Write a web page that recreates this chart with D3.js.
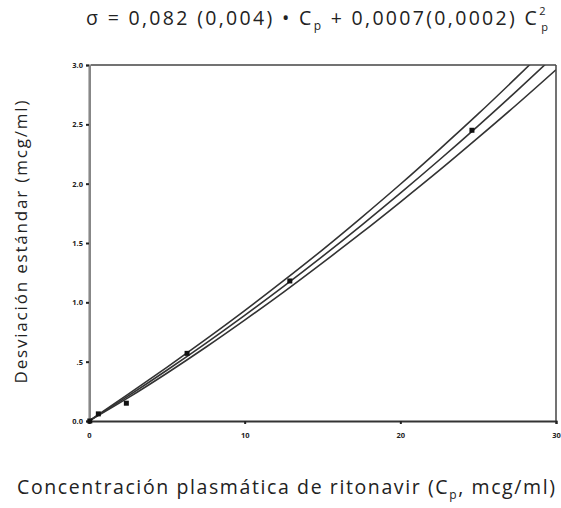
<!DOCTYPE html>
<html>
<head>
<meta charset="utf-8">
<script src="https://cdn.jsdelivr.net/npm/d3@7"></script>
<style>
  html, body { margin: 0; padding: 0; background: #fff; }
  svg { display: block; }
  text { font-family: "Open Sans", "Noto Sans", sans-serif; fill: #222; }
</style>
</head>
<body>
<svg id="chart" width="561" height="508"></svg>
<script>
// Fitted model: sigma = a * Cp + b * Cp^2 (coefficients from the equation)
const coefLinear = 0.082;
const coefQuad = 0.0007;

// Concentrations at which the fitted curve and its band are traced
const concGrid = [0, 2.5, 5, 7.5, 10, 12.5, 15, 17.5, 20, 22.5, 25, 27.5, 30];
// Half-width of the confidence band at each concentration of concGrid
const bandHalfWidth = [0, 0.015, 0.025, 0.033, 0.04, 0.048, 0.055, 0.065, 0.075, 0.088, 0.1, 0.115, 0.13];

// Observed standard deviations (Cp, sigma)
const obsConc = [0.05, 0.6, 2.4, 6.3, 12.9, 24.6];
const obsSD = [0.0, 0.06, 0.15, 0.57, 1.18, 2.45];

// Axis ticks
const yTicks = [0, 0.5, 1.0, 1.5, 2.0, 2.5, 3.0];
const yTickLabels = ["0.0", ".5", "1.0", "1.5", "2.0", "2.5", "3.0"];
const xTicks = [0, 10, 20, 30];
const xTickLabels = ["0", "10", "20", "30"];

const svg = d3.select("#chart");
const margin = { left: 89, top: 65, right: 5, bottom: 87 };
const W = 561, H = 508;
const innerW = W - margin.left - margin.right;
const innerH = H - margin.top - margin.bottom;

const x = d3.scaleLinear().domain([0, 30]).range([margin.left, margin.left + innerW]);
const y = d3.scaleLinear().domain([0, 3]).range([margin.top + innerH, margin.top]);

const fit = c => coefLinear * c + coefQuad * c * c;

// clip region for curves
svg.append("defs").append("clipPath").attr("id", "plotClip")
  .append("rect")
  .attr("x", margin.left).attr("y", margin.top)
  .attr("width", innerW).attr("height", innerH);

const line = d3.line().x(d => x(d[0])).y(d => y(d[1])).curve(d3.curveMonotoneX);

const centerData = concGrid.map(c => [c, fit(c)]);
const upperData = concGrid.map((c, i) => [c, fit(c) + bandHalfWidth[i]]);
const lowerData = concGrid.map((c, i) => [c, fit(c) - bandHalfWidth[i]]);

const curves = svg.append("g").attr("clip-path", "url(#plotClip)");
[upperData, centerData, lowerData].forEach(d => {
  curves.append("path")
    .datum(d)
    .attr("d", line)
    .attr("fill", "none")
    .attr("stroke", "#333")
    .attr("stroke-width", 1.6);
});

// Frame: top and right borders
svg.append("line")
  .attr("x1", x(0)).attr("x2", x(30)).attr("y1", y(3)).attr("y2", y(3))
  .attr("stroke", "#444").attr("stroke-width", 1.5);
svg.append("line")
  .attr("x1", x(30)).attr("x2", x(30)).attr("y1", y(3)).attr("y2", y(0))
  .attr("stroke", "#444").attr("stroke-width", 1.5);

// Y axis
const yAxis = d3.axisLeft(y)
  .tickValues(yTicks)
  .tickFormat((d, i) => yTickLabels[i])
  .tickSize(3)
  .tickPadding(3);
const gy = svg.append("g").attr("transform", `translate(${margin.left},0)`).call(yAxis);
gy.select(".domain").attr("stroke", "#bbb").attr("stroke-width", 3);
gy.selectAll(".tick line").attr("stroke", "#222").attr("stroke-width", 2);
gy.selectAll(".tick text").attr("font-size", 7.5).attr("fill", "#333").attr("font-weight", "bold");
svg.append("line")
  .attr("x1", margin.left + 1).attr("x2", margin.left + 1)
  .attr("y1", y(3)).attr("y2", y(0))
  .attr("stroke", "#555").attr("stroke-width", 1);

// X axis
const xAxis = d3.axisBottom(x)
  .tickValues(xTicks)
  .tickFormat((d, i) => xTickLabels[i])
  .tickSize(3)
  .tickPadding(9);
const gx = svg.append("g").attr("transform", `translate(0,${margin.top + innerH})`).call(xAxis);
gx.select(".domain").attr("stroke", "#333").attr("stroke-width", 2);
gx.selectAll(".tick line").attr("stroke", "#222").attr("stroke-width", 2);
gx.selectAll(".tick text").attr("font-size", 7.5).attr("fill", "#333").attr("font-weight", "bold");

// Observed points
svg.append("g").selectAll("rect")
  .data(obsConc.map((c, i) => [c, obsSD[i]]))
  .join("rect")
  .attr("x", d => x(d[0]) - 2.5)
  .attr("y", d => y(d[1]) - 2.5)
  .attr("width", 5).attr("height", 5)
  .attr("fill", "#111");

// Axis titles
svg.append("text")
  .attr("transform", `translate(27,${242}) rotate(-90)`)
  .attr("text-anchor", "middle")
  .attr("font-size", 17)
  .attr("textLength", 283)
  .attr("lengthAdjust", "spacing")
  .text("Desviación estándar (mcg/ml)");

const xt = svg.append("text")
  .attr("x", 17).attr("y", 494)
  .attr("font-size", 19.5)
  .attr("textLength", 538)
  .attr("lengthAdjust", "spacing");
xt.append("tspan").text("Concentración plasmática de ritonavir (C");
xt.append("tspan").attr("font-size", 12).attr("dy", 5).text("p");
xt.append("tspan").attr("dy", -5).text(", mcg/ml)");

// Equation
const eq = svg.append("text")
  .attr("x", 86).attr("y", 25)
  .attr("font-size", 19.5)
  .attr("textLength", 462)
  .attr("lengthAdjust", "spacing");
eq.append("tspan").text("σ = 0,082 (0,004) • C");
eq.append("tspan").attr("font-size", 12).attr("dy", 5).text("p");
eq.append("tspan").attr("dy", -5).text(" + 0,0007(0,0002) C");
eq.append("tspan").attr("font-size", 11).attr("dy", -10).text("2");
eq.append("tspan").attr("font-size", 11).attr("dx", -6.5).attr("dy", 16).text("p");
</script>
</body>
</html>
